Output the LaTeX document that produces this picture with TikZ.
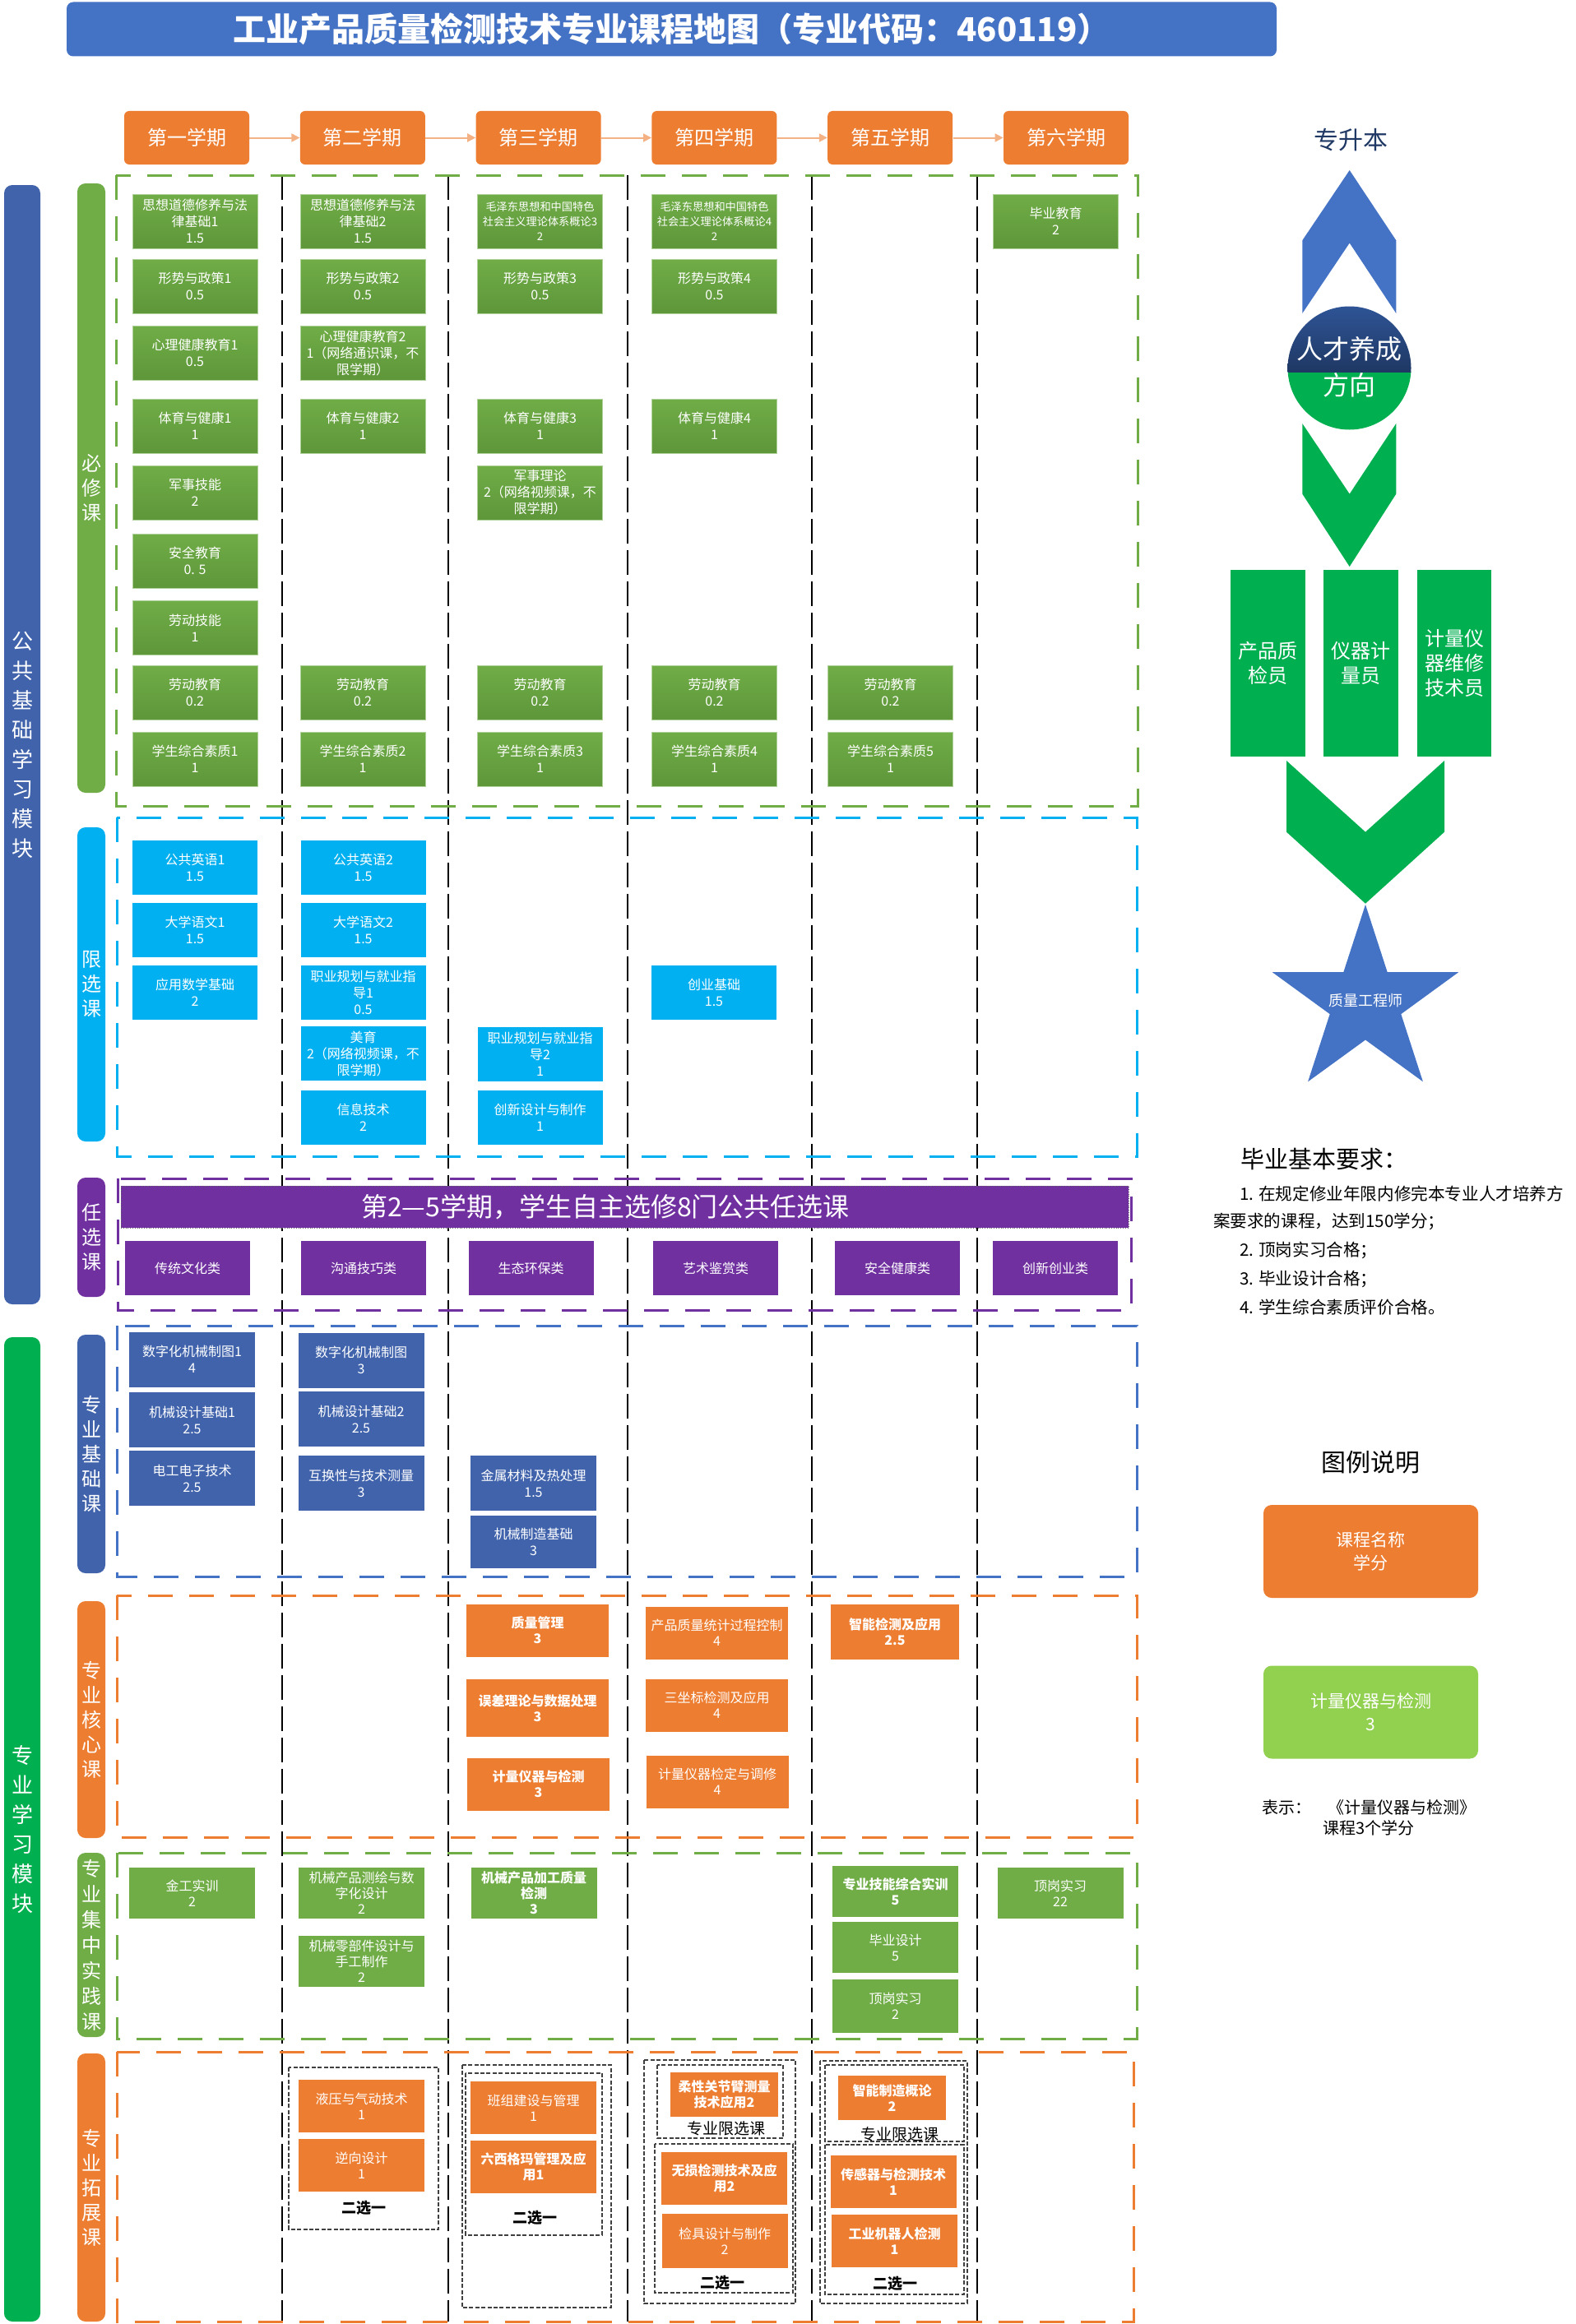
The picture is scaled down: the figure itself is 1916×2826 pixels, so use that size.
\documentclass[tikz,border=0pt]{standalone}
\usepackage{fontspec}
\setmainfont{Noto Sans CJK SC}
\usepackage{xcolor}
\usepackage{tikz}
\usetikzlibrary{positioning, arrows.meta}

\definecolor{titleC}{RGB}{68,114,196}
\definecolor{orgC}{RGB}{237,125,49}
\definecolor{grnA}{RGB}{112,173,71}
\definecolor{grnB}{RGB}{94,150,58}
\definecolor{cyanC}{RGB}{0,176,240}
\definecolor{purpC}{RGB}{112,48,160}
\definecolor{blueC}{RGB}{64,99,172}
\definecolor{modG}{RGB}{0,176,80}
\definecolor{lgrnC}{RGB}{146,208,80}
\definecolor{arrC}{RGB}{244,177,131}
\definecolor{navyC}{RGB}{31,56,100}
\definecolor{navyL}{RGB}{47,85,151}

\newcommand{\crsfont}{\fontsize{8}{10}\selectfont}
\newcommand{\crsfontb}{\fontsize{8}{9.5}\selectfont}

\begin{document}
\begin{tikzpicture}[
  x=0.5pt, y=-0.5pt,
  node distance=30.5pt,
  font=\crsfont,
  term/.style={fill=orgC, rounded corners=3pt, text=white, minimum width=76pt, minimum height=32.5pt, font=\fontsize{12}{14}\selectfont},
  tarr/.style={-{Triangle[length=5pt, width=5pt]}, draw=arrC, line width=1pt},
  course/.style={text=white, align=center, inner sep=1pt, minimum width=76pt, minimum height=33pt},
  reqc/.style={course, top color=grnA, bottom color=grnB, draw=grnA!55!white, line width=0.4pt},
  limc/.style={course, fill=cyanC},
  optc/.style={course, fill=purpC},
  basc/.style={course, fill=blueC, minimum width=76.5pt, minimum height=33.5pt},
  corec/.style={course, fill=orgC, minimum width=86.5pt, minimum height=32pt, font=\crsfontb},
  pracc/.style={course, fill=grnA, minimum width=76.5pt, minimum height=31pt, font=\crsfontb},
  extc/.style={course, fill=orgC, minimum width=76.5pt, minimum height=32pt, font=\crsfontb},
  heavy/.style={font=\crsfontb\bfseries},
  catbar/.style={rounded corners=5pt, inner sep=0pt, minimum width=17pt, text=white, align=center, font=\fontsize{12}{15}\selectfont},
  modbar/.style={rounded corners=5pt, inner sep=0pt, minimum width=22pt, text=white, align=center, font=\fontsize{13}{18}\selectfont},
  region/.style={line width=1.5pt, dash pattern=on 15pt off 10pt},
  colsep/.style={draw=black, line width=0.7pt, dash pattern=on 15pt off 4pt},
  pick/.style={draw=black!75, line width=0.6pt, dash pattern=on 2.5pt off 1.2pt},
  picknote/.style={font=\fontsize{9}{11}\selectfont\bfseries},
  limnote/.style={font=\fontsize{9.5}{11}\selectfont},
  job/.style={fill=modG, text=white, align=center, minimum width=45.3pt, minimum height=113.5pt, font=\fontsize{12}{15}\selectfont},
  legbox/.style={rounded corners=5pt, text=white, align=center, minimum width=130.5pt, minimum height=56.5pt, font=\fontsize{10.5}{14}\selectfont},
  reqline/.style={anchor=west, font=\fontsize{10.3}{12}\selectfont}
]
\fill[white] (0,0) rectangle (1916,2826);
\useasboundingbox (0,0) rectangle (1916,2826);

% title and semesters
\node[fill=titleC, rounded corners=4pt, minimum width=735.5pt, minimum height=33pt, text=white, font=\fontsize{20}{24}\selectfont\bfseries] (title) at (816.5,35.5) {工业产品质量检测技术专业课程地图（专业代码：460119）};
\node[term] (t1) at (227,167.5) {第一学期};
\node[term, right=of t1] (t2) {第二学期};
\node[term, right=of t2] (t3) {第三学期};
\node[term, right=of t3] (t4) {第四学期};
\node[term, right=of t4] (t5) {第五学期};
\node[term, right=of t5] (t6) {第六学期};
\draw[tarr] (t1) -- (t2);
\draw[tarr] (t2) -- (t3);
\draw[tarr] (t3) -- (t4);
\draw[tarr] (t4) -- (t5);
\draw[tarr] (t5) -- (t6);

% grid
\draw[colsep] (343,213) -- (343,2823);
\draw[colsep] (545,213) -- (545,2823);
\draw[colsep] (763,213) -- (763,2823);
\draw[colsep] (987,213) -- (987,2823);
\draw[colsep] (1188,213) -- (1188,2823);
\draw[region, draw=grnA] (141,213) rectangle (1383,980);
\draw[region, draw=cyanC] (142,994) rectangle (1382,1406);
\draw[region, draw=purpC] (143,1433) rectangle (1375,1593);
\draw[region, draw=titleC] (142,1612) rectangle (1382,1917);
\draw[region, draw=orgC] (142,1940) rectangle (1382,2234);
\draw[region, draw=grnA] (142,2253) rectangle (1382,2479);
\draw[region, draw=orgC] (142,2495) rectangle (1378,2823);

% module and category bars
\node[modbar, fill=blueC, minimum height=680.5pt] (pubmod) at (27,905.5) {公\\共\\基\\础\\学\\习\\模\\块};
\node[modbar, fill=modG, minimum height=598.5pt] (promod) at (27,2224.5) {专\\业\\学\\习\\模\\块};
\node[catbar, fill=grnA, minimum height=370.5pt] (barreq) at (111,593.5) {必\\修\\课};
\node[catbar, fill=cyanC, minimum height=191pt] (barlim) at (111,1197) {限\\选\\课};
\node[catbar, fill=purpC, minimum height=72.5pt] (baropt) at (111,1504.5) {任\\选\\课};
\node[catbar, fill=blueC, minimum height=145pt] (barbas) at (111,1768) {专\\业\\基\\础\\课};
\node[catbar, fill=orgC, minimum height=144pt] (barcore) at (111,2091) {专\\业\\核\\心\\课};
\node[catbar, fill=grnA, minimum height=112pt, font=\fontsize{12}{15.5}\selectfont] (barprac) at (111,2365) {专\\业\\集\\中\\实\\践\\课};
\node[catbar, fill=orgC, minimum height=163pt] (barext) at (111,2660) {专\\业\\拓\\展\\课};

% required courses
\node[reqc] (ideo1) at (237,269) {思想道德修养与法\\律基础1\\1.5};
\node[reqc] (pol1) at (237,348) {形势与政策1\\0.5};
\node[reqc] (psy1) at (237,429) {心理健康教育1\\0.5};
\node[reqc] (pe1) at (237,518) {体育与健康1\\1};
\node[reqc] (milsk) at (237,599) {军事技能\\2};
\node[reqc] (safe) at (237,682) {安全教育\\0. 5};
\node[reqc] (labsk) at (237,763.5) {劳动技能\\1};
\node[reqc] (lab1) at (237,842) {劳动教育\\0.2};
\node[reqc] (qual1) at (237,923) {学生综合素质1\\1};
\node[reqc] (ideo2) at (441,269) {思想道德修养与法\\律基础2\\1.5};
\node[reqc] (pol2) at (441,348) {形势与政策2\\0.5};
\node[reqc] (psy2) at (441,429) {心理健康教育2\\1（网络通识课，不\\限学期）};
\node[reqc] (pe2) at (441,518) {体育与健康2\\1};
\node[reqc] (lab2) at (441,842) {劳动教育\\0.2};
\node[reqc] (qual2) at (441,923) {学生综合素质2\\1};
\node[reqc, font=\fontsize{6.6}{9}\selectfont] (mao3) at (656.5,269) {毛泽东思想和中国特色\\社会主义理论体系概论3\\2};
\node[reqc] (pol3) at (656.5,348) {形势与政策3\\0.5};
\node[reqc] (pe3) at (656.5,518) {体育与健康3\\1};
\node[reqc] (milth) at (656.5,599) {军事理论\\2（网络视频课，不\\限学期）};
\node[reqc] (lab3) at (656.5,842) {劳动教育\\0.2};
\node[reqc] (qual3) at (656.5,923) {学生综合素质3\\1};
\node[reqc, font=\fontsize{6.6}{9}\selectfont] (mao4) at (868.5,269) {毛泽东思想和中国特色\\社会主义理论体系概论4\\2};
\node[reqc] (pol4) at (868.5,348) {形势与政策4\\0.5};
\node[reqc] (pe4) at (868.5,518) {体育与健康4\\1};
\node[reqc] (lab4) at (868.5,842) {劳动教育\\0.2};
\node[reqc] (qual4) at (868.5,923) {学生综合素质4\\1};
\node[reqc] (lab5) at (1082.5,842) {劳动教育\\0.2};
\node[reqc] (qual5) at (1082.5,923) {学生综合素质5\\1};
\node[reqc] (gradedu) at (1283.5,269) {毕业教育\\2};

% restricted electives
\node[limc] (eng1) at (237,1055) {公共英语1\\1.5};
\node[limc] (chn1) at (237,1131) {大学语文1\\1.5};
\node[limc] (math) at (237,1207) {应用数学基础\\2};
\node[limc] (eng2) at (441.5,1055) {公共英语2\\1.5};
\node[limc] (chn2) at (441.5,1131) {大学语文2\\1.5};
\node[limc] (career1) at (441.5,1207) {职业规划与就业指\\导1\\0.5};
\node[limc] (art) at (441.5,1281) {美育\\2（网络视频课，不\\限学期）};
\node[limc] (info) at (441.5,1358.5) {信息技术\\2};
\node[limc] (career2) at (656.5,1282) {职业规划与就业指\\导2\\1};
\node[limc] (innov) at (656.5,1358.5) {创新设计与制作\\1};
\node[limc] (startup) at (868,1207) {创业基础\\1.5};

% free electives
\node[fill=purpC, draw=black!60, densely dotted, minimum width=612.5pt, minimum height=25.5pt] (optbanner) at (759.5,1467.5) {};
\node[text=white, font=\fontsize{16}{18}\selectfont] (optnote) at (736,1467.5) {第2—5学期，学生自主选修8门公共任选课};
\node[optc] (tradc) at (228,1542) {传统文化类};
\node[optc] (commu) at (442,1542) {沟通技巧类};
\node[optc] (ecol) at (645.5,1542) {生态环保类};
\node[optc] (artap) at (870,1542) {艺术鉴赏类};
\node[optc] (safeh) at (1091,1542) {安全健康类};
\node[optc] (innent) at (1283,1542) {创新创业类};

% professional basics
\node[basc] (draw1) at (233.5,1653) {数字化机械制图1\\4};
\node[basc] (mdes1) at (233.5,1726.5) {机械设计基础1\\2.5};
\node[basc] (elec) at (233.5,1797.5) {电工电子技术\\2.5};
\node[basc] (draw2) at (439,1654) {数字化机械制图\\3};
\node[basc] (mdes2) at (439,1725.5) {机械设计基础2\\2.5};
\node[basc] (tol) at (439,1803.5) {互换性与技术测量\\3};
\node[basc] (metal) at (648.5,1803.5) {金属材料及热处理\\1.5};
\node[basc, minimum height=32pt] (manuf) at (648.5,1875) {机械制造基础\\3};

% professional core
\node[corec, heavy] (qm) at (653.5,1982.5) {质量管理\\3};
\node[corec, heavy, minimum height=35pt] (err) at (653.5,2077) {误差理论与数据处理\\3};
\node[corec, heavy] (meas) at (654.5,2169.5) {计量仪器与检测\\3};
\node[corec] (spc) at (871.5,1985.5) {产品质量统计过程控制\\4};
\node[corec] (cmm) at (871.5,2073.5) {三坐标检测及应用\\4};
\node[corec] (calib) at (872,2166.5) {计量仪器检定与调修\\4};
\node[corec, heavy, minimum width=78pt, minimum height=33.5pt] (smart) at (1088,1984.5) {智能检测及应用\\2.5};

% practice
\node[pracc] (metalw) at (233.5,2302) {金工实训\\2};
\node[pracc] (survey) at (439.5,2302) {机械产品测绘与数\\字化设计\\2};
\node[pracc] (parts) at (439.5,2384.5) {机械零部件设计与\\手工制作\\2};
\node[pracc, heavy] (proc) at (649,2302) {机械产品加工质量\\检测\\3};
\node[pracc, heavy] (skill) at (1088.5,2300) {专业技能综合实训\\5};
\node[pracc] (thesis) at (1088.5,2368) {毕业设计\\5};
\node[pracc, minimum height=32.5pt] (intern1) at (1088.5,2439.5) {顶岗实习\\2};
\node[pracc] (intern2) at (1289,2302) {顶岗实习\\22};

% extension
\draw[pick] (351,2514) rectangle (533,2711);
\draw[pick] (562,2511) rectangle (743,2806);
\draw[pick] (566,2521) rectangle (732,2718);
\draw[pick] (783,2505) rectangle (967,2801);
\draw[pick] (799,2511) rectangle (952,2600);
\draw[pick] (796,2607) rectangle (964,2788);
\draw[pick] (997,2506) rectangle (1176,2801);
\draw[pick] (1003,2511) rectangle (1172,2604);
\draw[pick] (1003,2608) rectangle (1172,2790);
\node[extc] (hydr) at (439.5,2561) {液压与气动技术\\1};
\node[extc] (rev) at (439.5,2633) {逆向设计\\1};
\node[picknote] (pick2) at (442,2685) {二选一};
\node[extc] (team) at (648.5,2563) {班组建设与管理\\1};
\node[extc, heavy] (sixsig) at (648.5,2634.5) {六西格玛管理及应\\用1};
\node[picknote] (pick3) at (650,2697) {二选一};
\node[extc, heavy, minimum width=65.5pt, minimum height=27pt] (arm) at (880.5,2547) {柔性关节臂测量\\技术应用2};
\node[limnote] (lim4) at (883,2588) {专业限选课};
\node[extc, heavy] (ndt) at (880.5,2648.5) {无损检测技术及应\\用2};
\node[extc, minimum height=33pt] (gauge) at (881,2725) {检具设计与制作\\2};
\node[picknote] (pick4) at (878,2776) {二选一};
\node[extc, heavy, minimum width=65.5pt, minimum height=27pt] (intel) at (1084.5,2551) {智能制造概论\\2};
\node[limnote] (lim5) at (1094,2595) {专业限选课};
\node[extc, heavy] (sensor) at (1086,2653) {传感器与检测技术\\1};
\node[extc, heavy] (robot) at (1087.5,2725) {工业机器人检测\\1};
\node[picknote] (pick5) at (1088,2777) {二选一};

% talent direction
\node[text=navyC, font=\fontsize{15}{18}\selectfont] (upgrade) at (1642,170) {专升本};
\fill[titleC] (1640.7,207) -- (1697.3,292.3) -- (1697.3,381) -- (1640.7,295.5) -- (1583.3,381) -- (1583.3,292.3) -- cycle;
\fill[modG] (1583.3,515) -- (1640.7,600.6) -- (1697.3,515) -- (1697.3,600.6) -- (1640.7,689) -- (1583.3,600.6) -- cycle;
\begin{scope}
  \clip (1640.5,447.5) circle[radius=37.5pt];
  \fill[modG] (1560,452) rectangle (1720,525);
  \shade[top color=navyL, bottom color=navyC] (1560,370) rectangle (1720,452);
\end{scope}
\node[text=white, font=\fontsize{16}{18}\selectfont] (talent) at (1640.5,424) {人才养成};
\node[text=white, font=\fontsize{16}{18}\selectfont] (direct) at (1640.5,468) {方向};
\node[job] (job1) at (1541.3,806.5) {产品质\\检员};
\node[job] (job2) at (1654.7,806.5) {仪器计\\量员};
\node[job] (job3) at (1768,806.5) {计量仪\\器维修\\技术员};
\fill[modG] (1564,925) -- (1660,1011.7) -- (1756,925) -- (1756,1011.7) -- (1660,1098.7) -- (1564,1011.7) -- cycle;
\fill[titleC] (1660,1100) -- (1686.7,1182.2) -- (1773.2,1182.2) -- (1703.3,1233.1) -- (1729.9,1315.3) -- (1660,1264.5) -- (1590.1,1315.3) -- (1616.7,1233.1) -- (1546.8,1182.2) -- (1633.3,1182.2) -- cycle;
\node[text=white, font=\fontsize{9}{11}\selectfont] (engr) at (1660,1217) {质量工程师};

% graduation requirements
\node[anchor=west, font=\fontsize{14.5}{17}\selectfont] (reqtitle) at (1501,1409) {毕业基本要求：};
\node[reqline] (req1) at (1500,1452) {1. 在规定修业年限内修完本专业人才培养方};
\node[reqline] (req1b) at (1468,1485) {案要求的课程，达到150学分；};
\node[reqline] (req2) at (1500,1520) {2. 顶岗实习合格；};
\node[reqline] (req3) at (1500,1555) {3. 毕业设计合格；};
\node[reqline] (req4) at (1500,1590) {4. 学生综合素质评价合格。};

% legend
\node[font=\fontsize{15}{18}\selectfont] (legtitle) at (1666,1778) {图例说明};
\node[legbox, fill=orgC] (legorg) at (1666.5,1886.5) {课程名称\\学分};
\node[legbox, fill=lgrnC] (leggrn) at (1666.5,2082) {计量仪器与检测\\3};
\node[align=center, font=\fontsize{10}{12.5}\selectfont] (legnote) at (1664,2210) {表示：\hspace{1em}《计量仪器与检测》\\课程3个学分};
\end{tikzpicture}
\end{document}
